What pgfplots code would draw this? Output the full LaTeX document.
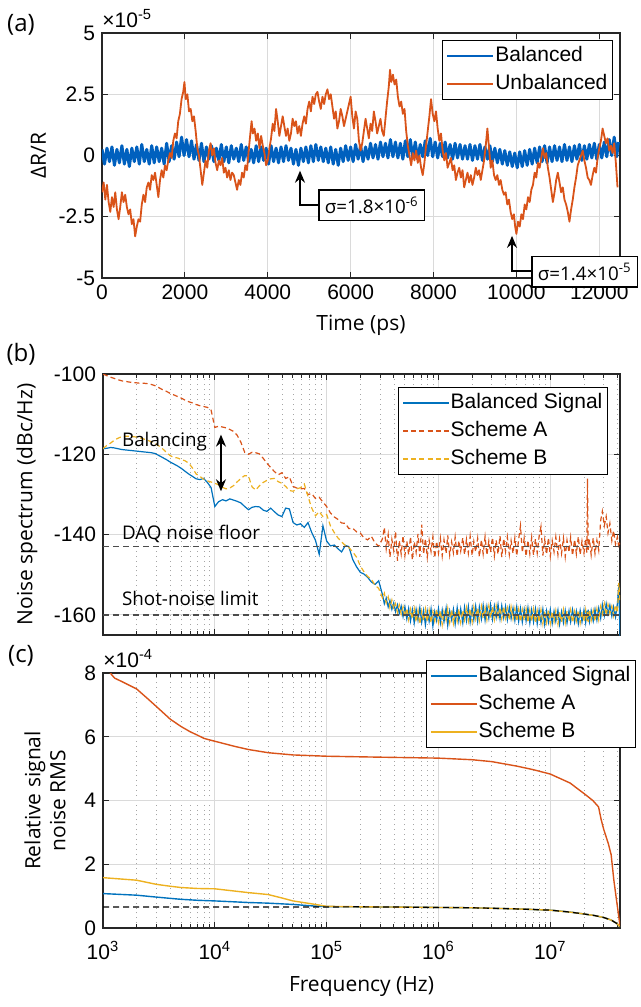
\documentclass[border=0pt]{standalone}
\usepackage{fontspec}
\setmainfont{Liberation Sans}
\newfontfamily\osans{Open Sans}
\usepackage{pgfplots}
\usepackage{pgfplotstable}
\pgfplotsset{compat=1.18}
\usetikzlibrary{arrows.meta}

\definecolor{mblue}{RGB}{0,114,189}
\definecolor{dblue}{RGB}{0,96,190}
\definecolor{morange}{RGB}{217,83,25}
\definecolor{myellow}{RGB}{237,177,32}
\definecolor{axc}{RGB}{38,38,38}
\definecolor{gridc}{RGB}{218,218,218}
\definecolor{mgridc}{RGB}{165,165,165}

% panel (b): frequency, balanced signal, scheme A, scheme B (dBc/Hz)
\pgfplotstableread{
f bal A B
1.00e3 -118.6 -100.0 -118.6
1.08e3 -118.5 -100.4 -117.8
1.17e3 -118.3 -100.8 -117.2
1.26e3 -118.4 -101.1 -116.5
1.36e3 -118.6 -101.4 -116.0
1.47e3 -118.8 -101.7 -115.6
1.58e3 -118.9 -101.8 -115.5
1.71e3 -119.0 -102.0 -115.5
1.85e3 -119.1 -102.1 -115.6
2.00e3 -119.2 -102.2 -115.7
2.15e3 -119.3 -102.3 -115.9
2.32e3 -119.4 -102.3 -116.2
2.51e3 -119.5 -102.4 -116.5
2.71e3 -119.6 -102.6 -116.9
2.92e3 -119.8 -102.9 -117.3
3.16e3 -120.3 -103.4 -117.9
3.41e3 -120.8 -103.9 -118.6
3.68e3 -121.3 -104.3 -119.5
3.98e3 -121.9 -104.8 -120.3
4.30e3 -122.4 -105.2 -120.8
4.64e3 -122.9 -105.6 -120.9
5.01e3 -123.5 -106.0 -121.3
5.41e3 -124.2 -106.5 -121.6
5.84e3 -124.9 -106.9 -122.2
6.31e3 -125.5 -107.2 -123.4
6.81e3 -126.1 -107.6 -124.9
7.36e3 -126.3 -107.9 -125.5
7.94e3 -126.0 -108.1 -126.2
8.58e3 -127.0 -108.3 -126.6
9.26e3 -128.3 -109.0 -126.9
1.00e4 -133.0 -113.3 -127.2
1.08e4 -131.8 -113.0 -127.6
1.17e4 -131.3 -113.2 -128.2
1.26e4 -131.6 -113.4 -128.6
1.36e4 -131.1 -113.8 -128.4
1.47e4 -131.4 -114.3 -127.8
1.58e4 -131.7 -115.2 -126.9
1.71e4 -132.1 -117.0 -126.0
1.85e4 -133.0 -119.5 -125.3
2.00e4 -133.8 -120.0 -125.4
2.15e4 -133.2 -119.5 -128.1
2.32e4 -133.0 -119.6 -128.9
2.51e4 -133.1 -119.9 -127.8
2.71e4 -133.9 -121.0 -127.0
2.92e4 -134.2 -122.2 -126.5
3.16e4 -133.4 -123.3 -126.1
3.41e4 -134.3 -124.3 -126.0
3.68e4 -135.1 -125.1 -126.8
3.98e4 -135.5 -124.6 -127.2
4.30e4 -133.4 -126.0 -128.0
4.64e4 -133.6 -125.6 -129.0
5.01e4 -137.0 -128.0 -129.2
5.41e4 -137.6 -128.4 -128.6
5.84e4 -137.3 -128.6 -128.3
6.31e4 -138.2 -128.5 -127.4
6.81e4 -137.0 -130.0 -130.5
7.36e4 -139.5 -129.8 -133.4
7.94e4 -141.4 -131.0 -135.3
8.58e4 -144.9 -130.7 -134.3
9.26e4 -137.8 -131.9 -135.5
1.00e5 -141.6 -133.0 -135.0
1.08e5 -142.8 -134.6 -137.8
1.17e5 -142.6 -135.6 -139.5
1.26e5 -143.5 -136.2 -140.8
1.36e5 -144.3 -137.1 -141.8
1.47e5 -142.7 -137.2 -142.7
1.58e5 -143.0 -138.5 -143.2
1.71e5 -146.2 -138.4 -144.3
1.85e5 -148.0 -139.3 -145.6
2.00e5 -149.4 -139.6 -147.8
2.15e5 -149.8 -140.8 -149.2
2.32e5 -150.6 -141.3 -150.4
2.51e5 -151.8 -140.4 -151.1
2.71e5 -152.4 -142.1 -152.6
2.92e5 -151.5 -142.9 -153.4
3.16e5 -155.0 -141.0 -155.8
3.28e5 -157.2 -138.2 -154.6
3.41e5 -155.8 -143.5 -157.0
3.55e5 -158.0 -140.0 -155.5
3.68e5 -156.4 -145.6 -158.2
3.83e5 -158.6 -141.2 -156.3
3.98e5 -157.0 -144.0 -158.6
4.13e5 -159.2 -139.2 -157.2
4.30e5 -157.5 -146.5 -159.4
4.46e5 -159.6 -141.5 -157.5
4.64e5 -157.8 -144.8 -159.8
4.82e5 -160.4 -140.3 -158.0
5.01e5 -158.0 -145.2 -160.5
5.21e5 -161.0 -141.6 -158.3
5.41e5 -158.4 -145.0 -161.2
5.62e5 -161.5 -140.5 -158.6
5.84e5 -158.7 -146.3 -161.0
6.07e5 -162.0 -141.8 -158.4
6.31e5 -158.6 -144.4 -161.8
6.56e5 -161.3 -139.8 -158.9
6.81e5 -158.2 -145.5 -162.3
7.08e5 -161.8 -137.5 -159.0
7.36e5 -158.9 -144.9 -161.4
7.64e5 -162.5 -141.0 -158.5
7.94e5 -159.0 -145.6 -161.7
8.25e5 -161.6 -141.4 -158.8
8.58e5 -158.5 -144.2 -162.0
8.91e5 -162.8 -140.6 -159.2
9.26e5 -159.2 -145.8 -161.5
9.62e5 -161.4 -141.7 -158.6
1.00e6 -158.4 -144.6 -161.8
1.04e6 -162.0 -140.9 -158.9
1.08e6 -158.8 -145.3 -162.4
1.12e6 -161.7 -141.3 -159.1
1.17e6 -158.3 -144.7 -161.3
1.21e6 -162.6 -140.2 -158.4
1.26e6 -159.0 -145.1 -161.9
1.31e6 -161.2 -141.8 -158.7
1.36e6 -158.6 -144.5 -162.1
1.41e6 -162.3 -140.6 -159.3
1.47e6 -158.2 -145.4 -161.6
1.52e6 -161.5 -141.5 -158.5
1.58e6 -158.5 -144.1 -161.9
1.65e6 -162.0 -140.8 -158.8
1.71e6 -158.1 -145.0 -161.2
1.78e6 -161.4 -141.2 -158.2
1.85e6 -157.9 -144.6 -161.5
1.92e6 -161.8 -140.4 -158.4
2.00e6 -158.3 -145.2 -161.7
2.07e6 -161.2 -141.7 -158.1
2.15e6 -157.8 -144.3 -161.0
2.24e6 -161.6 -140.9 -158.3
2.32e6 -158.0 -145.5 -161.4
2.42e6 -161.0 -141.3 -157.9
2.51e6 -157.6 -144.8 -160.9
2.61e6 -161.3 -140.5 -158.2
2.71e6 -157.9 -145.1 -161.2
2.82e6 -160.8 -141.6 -157.8
2.92e6 -157.5 -144.4 -160.7
3.04e6 -161.1 -140.7 -158.0
3.16e6 -157.8 -145.3 -161.1
3.28e6 -160.6 -141.4 -157.7
3.41e6 -157.4 -144.9 -160.5
3.55e6 -161.0 -140.3 -158.1
3.68e6 -157.7 -145.6 -161.0
3.83e6 -160.7 -141.0 -157.9
3.98e6 -157.9 -144.2 -160.8
4.13e6 -161.2 -140.6 -158.3
4.30e6 -158.1 -145.0 -161.3
4.46e6 -160.9 -141.5 -158.0
4.64e6 -158.3 -144.7 -161.0
4.82e6 -161.4 -140.8 -158.4
5.01e6 -158.0 -145.3 -161.5
5.21e6 -161.6 -141.2 -158.6
5.41e6 -158.4 -137.8 -161.7
5.62e6 -161.8 -144.5 -158.7
5.84e6 -158.6 -140.9 -161.4
6.07e6 -161.5 -145.4 -158.5
6.31e6 -158.2 -141.4 -161.9
6.56e6 -162.0 -144.8 -158.8
6.81e6 -158.7 -140.7 -161.6
7.08e6 -161.7 -145.1 -158.6
7.36e6 -158.5 -141.1 -162.0
7.64e6 -162.2 -144.6 -158.9
7.94e6 -158.8 -140.5 -161.8
8.25e6 -161.9 -138.0 -158.7
8.58e6 -158.6 -145.2 -162.2
8.91e6 -162.4 -141.3 -159.0
9.26e6 -159.0 -144.9 -161.9
9.62e6 -161.8 -140.8 -158.8
1.00e7 -158.7 -145.4 -162.1
1.04e7 -162.1 -141.5 -159.1
1.08e7 -159.1 -144.3 -161.7
1.12e7 -161.6 -140.6 -158.9
1.17e7 -158.8 -145.0 -162.3
1.21e7 -162.3 -141.1 -159.2
1.26e7 -159.2 -144.7 -161.8
1.31e7 -161.9 -140.9 -158.7
1.36e7 -158.9 -145.5 -162.0
1.41e7 -162.0 -141.4 -159.0
1.47e7 -159.0 -144.4 -161.6
1.52e7 -161.7 -140.7 -158.8
1.58e7 -158.7 -145.2 -161.9
1.65e7 -161.8 -141.2 -159.1
1.71e7 -159.1 -144.8 -161.5
1.78e7 -162.2 -140.5 -158.9
1.85e7 -158.9 -145.0 -162.0
1.92e7 -161.7 -141.6 -159.2
2.00e7 -158.8 -144.6 -161.7
2.07e7 -161.9 -141.0 -158.8
2.12e7 -159.0 -144.5 -161.5
2.15e7 -161.4 -126.0 -159.0
2.18e7 -158.7 -143.8 -161.8
2.24e7 -161.6 -141.2 -158.7
2.32e7 -158.9 -145.1 -161.4
2.42e7 -161.5 -140.8 -158.9
2.51e7 -158.6 -144.7 -161.6
2.61e7 -161.3 -141.4 -158.5
2.71e7 -158.3 -143.9 -161.2
2.82e7 -160.8 -136.5 -157.9
2.92e7 -157.4 -134.2 -159.8
3.04e7 -160.2 -137.8 -157.2
3.16e7 -157.2 -135.5 -160.1
3.28e7 -159.8 -139.6 -157.4
3.41e7 -157.6 -137.2 -159.6
3.55e7 -160.3 -141.5 -157.8
3.68e7 -158.0 -139.0 -160.2
3.83e7 -160.5 -142.4 -157.5
3.98e7 -157.2 -140.6 -159.5
4.10e7 -152.5 -143.2 -152.0
4.20e7 -165.5 -142.0 -157.0
}\spectab

\pgfplotsset{
  matlab/.style={
    scale only axis,
    clip mode=individual,
    scaled ticks=false,
    axis line style={draw=axc, line width=0.6pt},
    tick style={draw=axc, line width=0.5pt},
    major tick length=3pt,
    minor tick length=1.8pt,
    major grid style={draw=gridc, line width=0.5pt},
    minor grid style={draw=mgridc, line width=0.45pt, dotted},
    tick label style={font=\fontsize{10.5}{12}\selectfont},
    label style={font=\osans\fontsize{10.5}{12.5}\selectfont},
    legend cell align=left,
    legend style={draw=black, line width=0.6pt, fill=white,
      inner xsep=2pt, inner ysep=2pt, row sep=2.6pt,
      font=\fontsize{10.5}{12}\selectfont,
      nodes={inner sep=0.5pt, text height=8pt, text depth=2.4pt},
      /tikz/every even column/.append style={column sep=2.5pt}},
    legend image code/.code={\draw[##1] (0pt,0pt) -- (23pt,0pt);},
  },
  logfreq/.style={
    matlab, xmin=1e3, xmax=4.2e7,
    xtick={1e3,1e4,1e5,1e6,1e7},
    minor xtick={2e3,3e3,4e3,5e3,6e3,7e3,8e3,9e3,2e4,3e4,4e4,5e4,6e4,7e4,8e4,9e4,
      2e5,3e5,4e5,5e5,6e5,7e5,8e5,9e5,2e6,3e6,4e6,5e6,6e6,7e6,8e6,9e6,2e7,3e7,4e7},
    grid=both,
  },
}

\begin{document}
\begin{tikzpicture}
\useasboundingbox (0,0) rectangle (320.5pt,-503.5pt);

% ---------------- (a) ----------------
\begin{axis}[matlab,
  at={(51pt,-139pt)}, anchor=south west,
  width=259pt, height=122.5pt,
  xmin=0, xmax=12500, ymin=-5, ymax=5,
  xtick={0,2000,4000,6000,8000,10000,12000},
  xticklabels={0,2000,4000,6000,8000,10000,12000},
  ytick={-5,-2.5,0,2.5,5},
  yticklabels={-5,-2.5,0,2.5,5},
  grid=major,
  xlabel={Time (ps)},
  ylabel={ΔR/R},
  xlabel style={at={(axis description cs:0.5,-0.192)}, anchor=center},
  ylabel style={at={(axis description cs:-0.1226,0.5)}, anchor=center},
  legend style={at={(rel axis cs:1,1)}, anchor=north east, xshift=-3.5pt, yshift=-3.5pt},
]
\addlegendimage{dblue, line width=0.7pt}
\addlegendentry{Balanced}
\addplot[dblue, line width=1.5pt, line join=round, forget plot] coordinates {
(0,0.25)(60,-0.35)(120,0.3)(180,-0.25)(240,0.35)(300,-0.4)(360,0.25)(420,-0.3)(480,0.4)(540,-0.35)
(600,0.25)(660,-0.45)(720,0.3)(780,-0.25)(840,0.35)(900,-0.35)(960,0.45)(1020,-0.25)(1080,0.25)(1140,-0.35)
(1200,0.4)(1260,-0.3)(1320,0.35)(1380,-0.25)(1440,0.3)(1500,-0.35)(1560,0.5)(1620,-0.25)(1680,0.4)(1740,-0.15)
(1800,0.55)(1860,-0.05)(1920,0.75)(1980,0.0)(2040,0.65)(2100,-0.05)(2160,0.6)(2220,-0.15)(2280,0.45)(2340,-0.2)
(2400,0.5)(2460,-0.25)(2520,0.35)(2580,-0.15)(2640,0.4)(2700,-0.25)(2760,0.3)(2820,-0.2)(2880,0.45)(2940,-0.25)
(3000,0.35)(3060,-0.3)(3120,0.4)(3180,-0.15)(3240,0.3)(3300,-0.25)(3360,0.45)(3420,-0.2)(3480,0.35)(3540,-0.25)
(3600,0.25)(3660,-0.3)(3720,0.4)(3780,-0.25)(3840,0.35)(3900,-0.2)(3960,0.3)(4020,-0.35)(4080,0.4)(4140,-0.25)
(4200,0.3)(4260,-0.3)(4320,0.35)(4380,-0.25)(4440,0.4)(4500,-0.2)(4560,0.3)(4620,-0.35)(4680,0.25)(4740,-0.4)
(4800,0.3)(4860,-0.25)(4920,0.35)(4980,-0.3)(5040,0.4)(5100,-0.25)(5160,0.45)(5220,-0.2)(5280,0.35)(5340,-0.25)
(5400,0.3)(5460,-0.3)(5520,0.35)(5580,-0.35)(5640,0.25)(5700,-0.4)(5760,0.3)(5820,-0.25)(5880,0.4)(5940,-0.2)
(6000,0.35)(6060,-0.25)(6120,0.45)(6180,-0.15)(6240,0.4)(6300,-0.25)(6360,0.35)(6420,-0.15)(6480,0.5)(6540,-0.1)
(6600,0.45)(6660,-0.15)(6720,0.55)(6780,-0.05)(6840,0.5)(6900,-0.1)(6960,0.65)(7020,-0.05)(7080,0.55)(7140,-0.1)
(7200,0.5)(7260,-0.15)(7320,0.6)(7380,-0.05)(7440,0.65)(7500,-0.1)(7560,0.55)(7620,-0.15)(7680,0.45)(7740,-0.05)
(7800,0.6)(7860,0.0)(7920,0.7)(7980,-0.05)(8040,0.55)(8100,-0.1)(8160,0.5)(8220,-0.05)(8280,0.55)(8340,-0.1)
(8400,0.45)(8460,-0.15)(8520,0.5)(8580,-0.1)(8640,0.45)(8700,-0.15)(8760,0.4)(8820,-0.15)(8880,0.45)(8940,-0.2)
(9000,0.4)(9060,-0.15)(9120,0.45)(9180,-0.2)(9240,0.35)(9300,-0.15)(9360,0.4)(9420,-0.25)(9480,0.3)(9540,-0.3)
(9600,0.25)(9660,-0.35)(9720,0.2)(9780,-0.4)(9840,0.15)(9900,-0.45)(9960,0.1)(10020,-0.5)(10080,0.15)(10140,-0.45)
(10200,0.2)(10260,-0.4)(10320,0.25)(10380,-0.35)(10440,0.3)(10500,-0.3)(10560,0.35)(10620,-0.25)(10680,0.4)(10740,-0.3)
(10800,0.35)(10860,-0.25)(10920,0.4)(10980,-0.2)(11040,0.35)(11100,-0.25)(11160,0.45)(11220,-0.2)(11280,0.35)(11340,-0.25)
(11400,0.4)(11460,-0.15)(11520,0.45)(11580,-0.2)(11640,0.4)(11700,-0.15)(11760,0.45)(11820,-0.1)(11880,0.5)(11940,-0.15)
(12000,0.45)(12060,-0.1)(12120,0.55)(12180,-0.05)(12240,0.65)(12300,0.0)(12360,0.75)(12420,-0.05)(12460,0.55)
};
\addplot[morange, line width=0.9pt, line join=round] coordinates {
(0,-1.5)(40,-1.1)(80,-1.8)(120,-1.2)(160,-1.9)(200,-2.3)(240,-1.7)(280,-2.1)(320,-1.5)(360,-2.2)
(400,-2.6)(440,-2.1)(480,-1.5)(520,-1.9)(560,-1.6)(600,-2.1)(640,-2.4)(680,-2.2)(720,-2.8)(760,-2.6)
(800,-3.3)(840,-2.9)(880,-2.6)(920,-2.7)(960,-2.0)(1000,-1.6)(1040,-1.9)(1080,-1.3)(1120,-1.1)(1160,-1.4)
(1200,-0.8)(1240,-1.0)(1280,-0.7)(1320,-1.2)(1360,-1.7)(1400,-1.0)(1440,-0.6)(1480,-0.9)(1520,-0.4)(1560,-0.6)
(1600,-0.2)(1640,0.1)(1680,-0.1)(1720,0.6)(1760,0.9)(1800,0.7)(1840,1.4)(1880,1.7)(1920,2.3)(1960,2.6)
(1990,3.0)(2020,2.3)(2060,2.5)(2100,1.8)(2140,1.9)(2180,1.4)(2220,1.6)(2260,1.0)(2300,0.3)(2340,0.0)
(2380,-0.6)(2420,-1.2)(2460,-0.7)(2500,-0.2)(2540,-0.5)(2580,0.2)(2620,0.5)(2660,0.0)(2700,0.3)(2740,-0.3)
(2780,-0.6)(2820,-0.2)(2860,-0.4)(2900,-0.1)(2940,-0.7)(2980,-0.5)(3020,-0.9)(3060,-0.6)(3100,-1.0)(3140,-0.7)
(3180,-0.8)(3220,-1.1)(3260,-1.4)(3300,-1.0)(3340,-1.2)(3380,-0.7)(3420,-0.9)(3460,-0.4)(3500,-0.6)(3540,0.2)
(3580,0.9)(3610,1.4)(3640,0.9)(3680,1.1)(3720,0.6)(3760,0.9)(3800,0.3)(3840,0.8)(3880,0.4)(3920,0.1)
(3960,-0.4)(4000,-0.2)(4040,0.3)(4080,0.7)(4120,1.3)(4160,1.0)(4200,1.9)(4240,1.4)(4280,0.8)(4320,1.2)
(4360,1.6)(4400,1.2)(4440,0.8)(4480,1.1)(4520,0.6)(4560,0.9)(4600,1.5)(4640,1.2)(4680,1.4)(4720,0.9)
(4760,1.2)(4800,0.8)(4840,1.3)(4880,1.6)(4920,1.3)(4960,1.9)(5000,2.2)(5040,1.8)(5080,2.4)(5120,2.1)
(5160,2.5)(5200,2.6)(5240,2.2)(5280,1.9)(5320,2.4)(5360,2.1)(5400,2.5)(5440,2.7)(5480,2.3)(5520,2.5)
(5560,2.0)(5600,1.5)(5640,1.8)(5680,1.1)(5720,1.4)(5760,1.9)(5800,1.6)(5840,1.2)(5880,1.5)(5920,1.8)
(5960,2.1)(6000,2.4)(6040,1.6)(6080,1.1)(6120,1.8)(6160,1.5)(6200,0.6)(6240,0.2)(6280,0.5)(6320,1.0)
(6360,1.5)(6400,1.1)(6440,0.7)(6480,1.3)(6520,1.0)(6560,1.8)(6600,1.4)(6640,0.9)(6680,1.2)(6720,1.5)
(6760,1.0)(6800,0.8)(6840,1.5)(6880,2.2)(6920,2.8)(6950,3.5)(6980,3.0)(7020,3.3)(7060,2.9)(7100,3.1)
(7140,2.4)(7180,2.0)(7220,2.2)(7260,1.7)(7300,1.9)(7340,1.0)(7380,0.4)(7420,0.0)(7460,-0.4)(7500,0.1)
(7540,-0.2)(7580,0.2)(7620,-0.3)(7660,0.0)(7700,-0.5)(7740,-0.8)(7780,-0.3)(7820,0.4)(7860,1.0)(7900,1.6)
(7940,2.3)(7980,1.7)(8020,1.4)(8060,1.8)(8100,1.1)(8140,0.6)(8180,0.9)(8220,0.2)(8260,-0.2)(8300,0.1)
(8340,-0.5)(8380,-0.3)(8420,-0.1)(8460,-0.6)(8500,-0.4)(8540,-1.0)(8580,-0.7)(8620,-0.5)(8660,-0.9)(8700,-0.6)
(8740,-1.3)(8780,-1.0)(8820,-0.7)(8860,-1.1)(8900,-0.8)(8940,-1.2)(8980,-0.9)(9020,-0.5)(9060,-0.8)(9100,-0.6)
(9140,-1.0)(9180,-0.6)(9220,-0.2)(9260,0.4)(9300,1.1)(9340,0.3)(9380,-0.5)(9420,-0.2)(9460,-0.8)(9500,-1.0)
(9540,-0.8)(9580,-1.2)(9620,-1.0)(9660,-1.4)(9700,-1.6)(9740,-1.5)(9780,-2.0)(9820,-1.8)(9860,-2.3)(9900,-2.6)
(9940,-2.4)(9970,-2.9)(10000,-3.2)(10040,-2.7)(10080,-2.9)(10120,-2.4)(10160,-2.6)(10200,-2.0)(10240,-2.2)(10280,-1.7)
(10320,-1.9)(10360,-1.4)(10400,-1.2)(10440,-0.7)(10480,-0.9)(10520,-0.3)(10560,-0.5)(10600,-0.1)(10640,0.3)(10680,-0.1)
(10720,0.1)(10760,-0.5)(10800,-0.9)(10840,-1.4)(10880,-1.9)(10920,-1.5)(10960,-1.0)(11000,-0.7)(11040,-1.1)(11080,-1.5)
(11120,-1.3)(11160,-1.8)(11200,-2.0)(11240,-2.3)(11280,-2.7)(11320,-2.2)(11360,-1.8)(11400,-1.3)(11440,-0.9)(11480,-0.4)
(11520,-0.2)(11560,0.0)(11600,0.2)(11640,-0.2)(11680,-0.5)(11720,-0.9)(11760,-1.0)(11800,-1.2)(11840,-0.8)(11880,-0.5)
(11920,-0.7)(11960,-0.1)(12000,0.3)(12040,0.6)(12080,1.1)(12120,0.8)(12160,0.5)(12200,0.7)(12240,0.2)(12280,0.4)
(12320,0.1)(12360,0.5)(12400,-0.3)(12440,-1.3)
};
\addlegendentry{Unbalanced}
% sigma annotations
\draw[line width=0.8pt, -{Stealth[length=6pt,width=5pt]}]
  (axis cs:5250,-2.03) -- (axis cs:4778,-2.03) -- (axis cs:4778,-0.62);
\node[draw=black, line width=0.8pt, fill=white, anchor=west, inner xsep=3pt, minimum height=13.8pt,
  font=\osans\fontsize{9.4}{11}\selectfont] at (axis cs:5212,-2.03) {σ=1.8×10\textsuperscript{-6}};
\draw[line width=0.8pt, -{Stealth[length=6pt,width=5pt]}]
  (axis cs:10400,-4.72) -- (axis cs:9894,-4.72) -- (axis cs:9894,-3.28);
\node[draw=black, line width=0.8pt, fill=white, anchor=west, inner xsep=3pt, minimum height=13.8pt,
  font=\osans\fontsize{9.4}{11}\selectfont] at (axis cs:10352,-4.74) {σ=1.4×10\textsuperscript{-5}};
\end{axis}

% ---------------- (b) ----------------
\begin{semilogxaxis}[logfreq,
  at={(51.5pt,-317.5pt)}, anchor=south west,
  width=258.5pt, height=130.5pt,
  ymin=-165, ymax=-100,
  ytick={-160,-140,-120,-100},
  yticklabels={-160,-140,-120,-100},
  xticklabel=\empty,
  ylabel={Noise spectrum (dBc/Hz)},
  ylabel style={at={(axis description cs:-0.147,0.5)}, anchor=center},
  legend style={at={(rel axis cs:1,1)}, anchor=north east, xshift=-6pt, yshift=-6.5pt},
]
\addplot[mblue, line width=0.6pt] table[x=f, y=bal] {\spectab};
\addlegendentry{Balanced Signal}
\addplot[morange, line width=0.6pt, dash pattern=on 2.5pt off 1.6pt] table[x=f, y=A] {\spectab};
\addlegendentry{Scheme A}
\addplot[myellow, line width=0.6pt, dash pattern=on 2.5pt off 1.6pt] table[x=f, y=B] {\spectab};
\addlegendentry{Scheme B}
\addplot[black!70, line width=0.6pt, dash pattern=on 3pt off 2pt, forget plot] coordinates {(1e3,-143) (4.2e7,-143)};
\addplot[black!70, line width=0.6pt, dash pattern=on 3pt off 2pt, forget plot] coordinates {(1e3,-160) (4.2e7,-160)};
\node[anchor=west, inner sep=0pt, font=\osans\fontsize{9.4}{11}\selectfont] at (axis cs:1.47e3,-116.8) {Balancing};
\node[anchor=west, inner sep=0pt, font=\osans\fontsize{9.4}{11}\selectfont] at (axis cs:1.47e3,-139.9) {DAQ noise floor};
\node[anchor=west, inner sep=0pt, font=\osans\fontsize{9.4}{11}\selectfont] at (axis cs:1.47e3,-156.0) {Shot-noise limit};
\draw[line width=0.8pt, {Stealth[length=6pt,width=5pt]}-{Stealth[length=6pt,width=5pt]}]
  (axis cs:1.135e4,-115.1) -- (axis cs:1.135e4,-129.2);
\end{semilogxaxis}

% ---------------- (c) ----------------
\begin{semilogxaxis}[logfreq,
  at={(51.5pt,-464pt)}, anchor=south west,
  width=258.5pt, height=127.5pt,
  ymin=0, ymax=8,
  ytick={0,2,4,6,8},
  yticklabels={0,2,4,6,8},
  xticklabels={10\textsuperscript{3},10\textsuperscript{4},10\textsuperscript{5},10\textsuperscript{6},10\textsuperscript{7}},
  xticklabel style={yshift=-3pt},
  xlabel={Frequency (Hz)},
  ylabel={Relative signal\\noise RMS},
  xlabel style={at={(axis description cs:0.5,-0.231)}, anchor=center},
  ylabel style={at={(axis description cs:-0.112,0.5)}, anchor=center, align=center},
  legend style={at={(rel axis cs:1,1)}, anchor=north east, xshift=8pt, yshift=6.5pt},
]
\addplot[mblue, line width=0.7pt] coordinates {
(1e3,1.08)(2e3,1.03)(3e3,0.97)(4e3,0.93)(5e3,0.9)(7e3,0.87)(1e4,0.85)(2e4,0.8)(3e4,0.78)
(5e4,0.74)(7e4,0.7)(8.5e4,0.68)(1e5,0.67)(2e5,0.665)(5e5,0.655)(1e6,0.645)(2e6,0.635)(5e6,0.6)
(1e7,0.56)(1.5e7,0.5)(2e7,0.44)(2.5e7,0.39)(3e7,0.33)(3.5e7,0.25)(3.9e7,0.15)(4.1e7,0.08)(4.2e7,0.02)
};
\addlegendentry{Balanced Signal}
\addplot[morange, line width=0.7pt] coordinates {
(1.16e3,8.0)(1.27e3,7.84)(1.5e3,7.72)(2e3,7.5)(2.5e3,7.2)(3e3,6.95)(4e3,6.55)(5e3,6.32)(6e3,6.16)
(7e3,6.05)(8e3,5.95)(9e3,5.9)(1e4,5.86)(1.5e4,5.7)(2e4,5.6)(3e4,5.5)(5e4,5.43)(1e5,5.39)(3e5,5.36)
(1e6,5.33)(2e6,5.28)(3e6,5.22)(5e6,5.08)(7e6,4.97)(1e7,4.83)(1.5e7,4.55)(2e7,4.22)(2.4e7,4.0)
(2.7e7,3.8)(2.85e7,3.4)(3e7,3.1)(3.3e7,2.65)(3.5e7,2.3)(3.7e7,1.5)(3.9e7,0.9)(4.1e7,0.35)(4.2e7,0.05)
};
\addlegendentry{Scheme A}
\addplot[myellow, line width=0.7pt] coordinates {
(1e3,1.58)(2e3,1.5)(3e3,1.37)(4e3,1.31)(5e3,1.27)(7e3,1.24)(1e4,1.23)(2e4,1.11)(3e4,1.05)
(4e4,0.94)(5e4,0.85)(7e4,0.77)(1e5,0.68)(2e5,0.665)(5e5,0.655)(1e6,0.645)(2e6,0.635)(5e6,0.6)
(1e7,0.56)(1.5e7,0.5)(2e7,0.44)(2.5e7,0.39)(3e7,0.33)(3.5e7,0.25)(3.9e7,0.15)(4.1e7,0.08)(4.2e7,0.02)
};
\addlegendentry{Scheme B}
\addplot[black, line width=0.6pt, dash pattern=on 3pt off 2pt, forget plot] coordinates {
(1e3,0.66)(1e5,0.66)(2e5,0.665)(5e5,0.655)(1e6,0.645)(2e6,0.635)(5e6,0.6)
(1e7,0.56)(1.5e7,0.5)(2e7,0.44)(2.5e7,0.39)(3e7,0.33)(3.5e7,0.25)(3.9e7,0.15)(4.1e7,0.08)(4.2e7,0.02)
};
\end{semilogxaxis}

% panel letters and exponent labels
\node[font=\osans\fontsize{12}{14}\selectfont] at (10.5pt,-12.5pt) {(a)};
\node[font=\osans\fontsize{12}{14}\selectfont] at (10.5pt,-177pt) {(b)};
\node[font=\osans\fontsize{12}{14}\selectfont] at (10.5pt,-328pt) {(c)};
\node[anchor=base west, inner sep=0pt, font=\fontsize{10.5}{12}\selectfont] at (51pt,-13.5pt) {×10\textsuperscript{-5}};
\node[anchor=base west, inner sep=0pt, font=\fontsize{10.5}{12}\selectfont] at (51.5pt,-333.5pt) {×10\textsuperscript{-4}};
\end{tikzpicture}
\end{document}
